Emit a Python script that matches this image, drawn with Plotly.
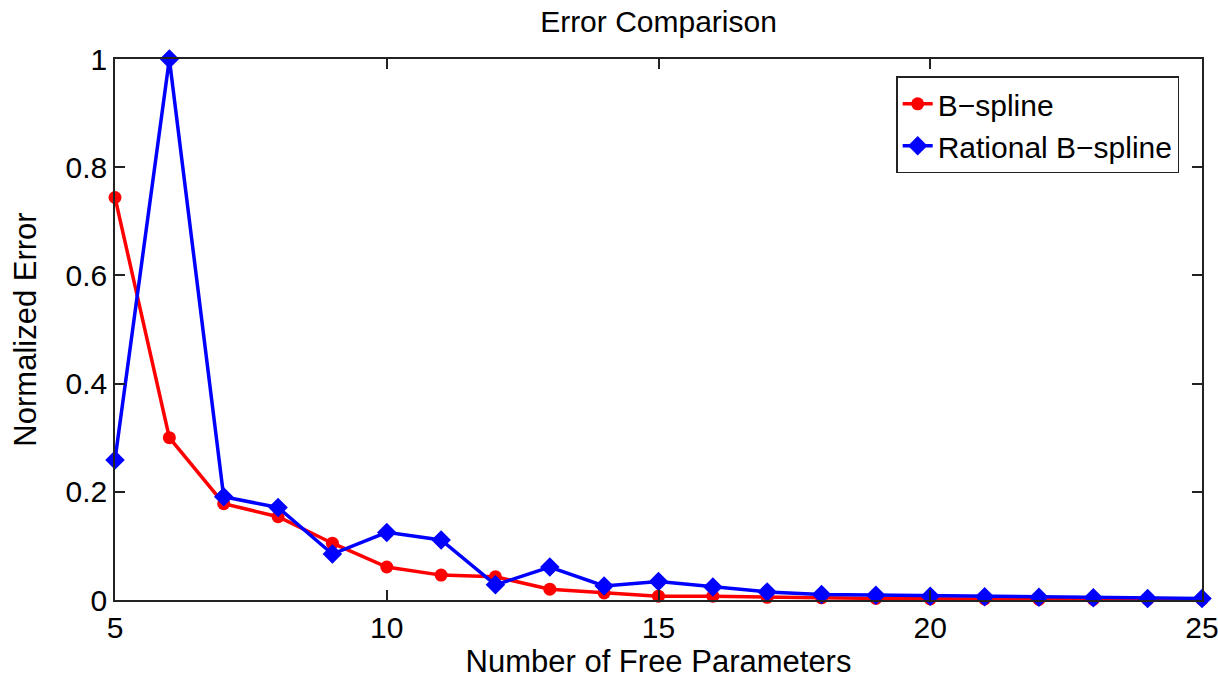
import plotly.graph_objects as go

params = list(range(5, 26))
bspline_err = [0.744, 0.300, 0.178, 0.154, 0.105, 0.061, 0.046, 0.043, 0.020, 0.013,
               0.007, 0.007, 0.005, 0.004, 0.003, 0.002, 0.002, 0.001, 0.001, 0.001, 0.001]
rational_err = [0.259, 1.000, 0.191, 0.171, 0.085, 0.125, 0.111, 0.028, 0.061, 0.026,
                0.034, 0.024, 0.015, 0.010, 0.009, 0.007, 0.006, 0.005, 0.004, 0.003, 0.003]

FONT = "Liberation Sans, Arial, sans-serif"

fig = go.Figure()
fig.add_trace(go.Scatter(
    x=params, y=bspline_err, mode="lines+markers", name="B\u2212spline",
    line=dict(color="#ff0000", width=3.5),
    marker=dict(symbol="circle", size=13, color="#ff0000"),
    cliponaxis=False,
))
fig.add_trace(go.Scatter(
    x=params, y=rational_err, mode="lines+markers", name="Rational B\u2212spline",
    line=dict(color="#0000ff", width=3.5),
    marker=dict(symbol="diamond", size=15, color="#0000ff"),
    cliponaxis=False,
))

axis_common = dict(
    showline=True, linecolor="#222", linewidth=1.5, mirror="ticks",
    ticks="inside", ticklen=10, tickwidth=1.5, tickcolor="#222",
    showgrid=False, zeroline=False, ticklabeloverflow="allow", automargin=False,
    tickfont=dict(family=FONT, size=30, color="#000"),
)

fig.update_layout(
    width=1218, height=685,
    margin=dict(l=115, r=16, t=59, b=85),
    paper_bgcolor="white", plot_bgcolor="white",
    font=dict(family=FONT, color="#000"),
    title=dict(text="Error Comparison", xref="paper", x=0.5, xanchor="center",
               y=0.968, yanchor="middle",
               font=dict(family=FONT, size=30, color="#000")),
    xaxis=dict(range=[5, 25], tickvals=[5, 10, 15, 20, 25],
               title=dict(text="Number of Free Parameters", standoff=6,
                          font=dict(family=FONT, size=31)),
               **axis_common),
    yaxis=dict(range=[0, 1], tickvals=[0, 0.2, 0.4, 0.6, 0.8, 1],
               ticktext=["0", "0.2", "0.4", "0.6", "0.8", "1"],
               title=dict(text="Normalized Error", standoff=20,
                          font=dict(family=FONT, size=31)),
               **axis_common),
    legend=dict(x=0.979, y=0.968, xanchor="right", yanchor="top",
                bgcolor="white", bordercolor="#222", borderwidth=1.5,
                font=dict(family=FONT, size=30, color="#000"),
                tracegroupgap=0),
    showlegend=True,
)

fig.write_html("out.html")
